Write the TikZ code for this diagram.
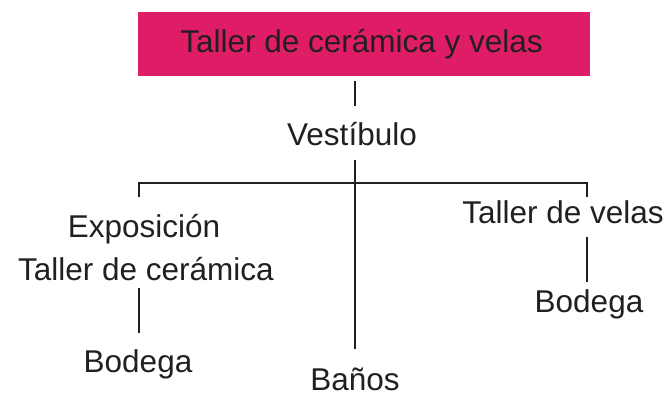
\documentclass[tikz,border=0pt]{standalone}
\usepackage{fontspec}
\setmainfont{Liberation Sans}
\definecolor{boxpink}{HTML}{DF1C66}
\definecolor{ink}{HTML}{231F20}
\begin{document}
\begin{tikzpicture}[x=1pt,y=-1pt,
  lbl/.style={anchor=base,inner sep=0pt,text=ink,font=\fontsize{31.5}{36}\selectfont},
  conn/.style={draw=ink,line width=2.4pt}]
\useasboundingbox (0,0) rectangle (671,396);
\node[fill=boxpink,minimum width=452pt,minimum height=64pt,inner sep=0pt,text=ink,font=\fontsize{31.5}{36}\selectfont] (title) at (364,44) {\hspace*{-5pt}Taller de cerámica y velas};
\node[lbl] (vest) at (352,145) {Vestíbulo};
\node[lbl] (expo) at (144,237) {Exposición};
\node[lbl] (tcer) at (146,280) {Taller de cerámica};
\node[lbl] (bod1) at (138,372) {Bodega};
\node[lbl] (banos) at (355,390) {Baños};
\node[lbl] (tvelas) at (563,223) {Taller de velas};
\node[lbl] (bod2) at (589,312) {Bodega};
\coordinate (trunk) at (355,183);
\coordinate (leftx) at (139,183);
\coordinate (rightx) at (587,183);
\draw[conn] ([yshift=-5pt]title.south -| trunk) -- ([yshift=39pt]vest.base -| trunk);
\draw[conn] ([yshift=-15pt]vest.base -| trunk) -- ([yshift=41pt]banos.base -| trunk);
\draw[conn] ([yshift=40pt]expo.base -| leftx) -- (leftx) -- (rightx) -- ([yshift=26pt]tvelas.base -| rightx);
\draw[conn] ([yshift=-8pt]tcer.base -| leftx) -- ([yshift=39pt]bod1.base -| leftx);
\draw[conn] ([yshift=-14pt]tvelas.base -| rightx) -- ([yshift=30pt]bod2.base -| rightx);
\end{tikzpicture}
\end{document}
